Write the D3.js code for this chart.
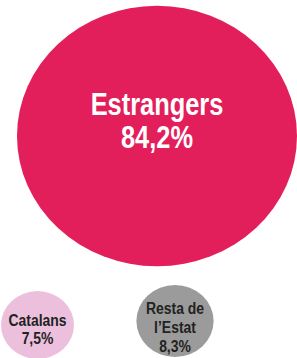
<!DOCTYPE html>
<html>
<head>
<meta charset="utf-8">
<script src="https://cdn.jsdelivr.net/npm/d3@7"></script>
<style>
    body { margin: 0; background: #fff; }
    svg { display: block; }
    text { font-family: "Liberation Sans", Arial, sans-serif; font-weight: bold; }
</style>
</head>
<body>
<svg width="297" height="358"></svg>
<script>

// data
const categories = ['Estrangers', 'Catalans', 'Resta de l’Estat'];
const labelLines = [['Estrangers'], ['Catalans'], ['Resta de', 'l’Estat']];
const shares = [84.2, 7.5, 8.3];
const colors = ['#e21f5b', '#ecc0dd', '#9a9b9a'];
const textColors = ['#ffffff', '#222222', '#222222'];

// layout
const centers = [[157, 136], [37.5, 325], [175, 321]];
const firstBaseline = [-21, 1, -7];
const fontSizes = [31, 17, 17];
const lineHeights = [33, 18.5, 19];
const narrow = 0.82; // condensed face isn't installed, squeeze the text instead

const rx = d3.scalePow().exponent(0.556).domain([0, d3.max(shares)]).range([0, 140]);
const aspect = 0.93;

const fmt = d3.formatLocale({ decimal: ',', thousands: '.', grouping: [3], currency: ['', '€'] }).format('.1f');

const nodes = categories.map((c, i) => ({
    name: c,
    lines: labelLines[i].concat([fmt(shares[i]) + '%']),
    value: shares[i],
    i: i
}));

const svg = d3.select('svg');

const g = svg.selectAll('g.node')
    .data(nodes)
    .enter()
    .append('g')
    .attr('class', 'node')
    .attr('transform', d => `translate(${centers[d.i][0]}, ${centers[d.i][1]})`);

g.append('ellipse')
    .attr('rx', d => rx(d.value))
    .attr('ry', d => rx(d.value) * aspect)
    .style('fill', d => colors[d.i]);

g.append('text')
    .attr('transform', `scale(${narrow}, 1)`)
    .style('text-anchor', 'middle')
    .style('font-size', d => fontSizes[d.i] + 'px')
    .style('fill', d => textColors[d.i])
    .selectAll('tspan')
    .data(d => d.lines.map((l, k) => ({ l, k, i: d.i })))
    .enter()
    .append('tspan')
    .attr('x', 0)
    .attr('y', t => firstBaseline[t.i] + t.k * lineHeights[t.i])
    .text(t => t.l);

</script>
</body>
</html>
